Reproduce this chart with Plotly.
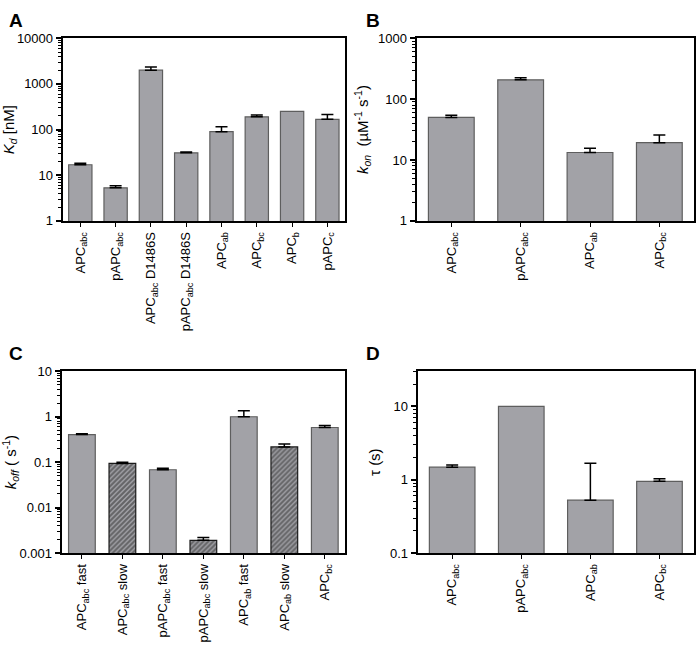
import plotly.graph_objects as go
import numpy as np

# panel A - Kd
a_labels = ["APC<sub>abc</sub>", "pAPC<sub>abc</sub>", "APC<sub>abc</sub> D1486S",
            "pAPC<sub>abc</sub> D1486S", "APC<sub>ab</sub>", "APC<sub>bc</sub>",
            "APC<sub>b</sub>", "pAPC<sub>c</sub>"]
a_vals = [17, 5.3, 2000, 31, 90, 190, 250, 168]
a_err = [1.3, 0.6, 350, 1.2, 25, 18, None, 45]

# panel B - kon
b_labels = ["APC<sub>abc</sub>", "pAPC<sub>abc</sub>", "APC<sub>ab</sub>", "APC<sub>bc</sub>"]
b_vals = [50, 208, 13.3, 19.3]
b_err = [4.5, 16, 2.3, 6.5]

# panel C - koff
c_labels = ["APC<sub>abc</sub> fast", "APC<sub>abc</sub> slow", "pAPC<sub>abc</sub> fast",
            "pAPC<sub>abc</sub> slow", "APC<sub>ab</sub> fast", "APC<sub>ab</sub> slow",
            "APC<sub>bc</sub>"]
c_vals = [0.405, 0.094, 0.068, 0.0019, 1.0, 0.217, 0.58]
c_err = [0.02, 0.006, 0.005, 0.0003, 0.35, 0.034, 0.06]
c_slow = [False, True, False, True, False, True, False]

# panel D - tau
d_labels = ["APC<sub>abc</sub>", "pAPC<sub>abc</sub>", "APC<sub>ab</sub>", "APC<sub>bc</sub>"]
d_vals = [1.48, 10, 0.525, 0.95]
d_err = [0.11, None, 1.15, 0.08]

W, H = 699, 645
FONT = "Liberation Sans, Arial, sans-serif"
BAR = "#a2a2a7"


def xd(l, r):
    return [l / W, r / W]


def yd(t, b):
    return [1 - b / H, 1 - t / H]


fig = go.Figure()


def add_bars(labels, vals, err, n, slow=None):
    xa = "x" if n == 1 else "x%d" % n
    ya = "y" if n == 1 else "y%d" % n
    if slow is None:
        slow = [False] * len(vals)
    shapes = ["/" if s else "" for s in slow]
    lcol = ["#1a1a1a" if s else "#5e5e5e" for s in slow]
    fig.add_trace(go.Bar(
        x=labels, y=vals, xaxis=xa, yaxis=ya,
        marker=dict(color=BAR, line=dict(color=lcol, width=1.2),
                    pattern=dict(shape=shapes, fgcolor="#262626", bgcolor=BAR,
                                 size=3.5, solidity=0.6)),
        showlegend=False, hoverinfo="skip",
    ))
    # upward error bars only where the source has one
    keep = [i for i, e in enumerate(err) if e is not None]
    fig.add_trace(go.Scatter(
        x=[labels[i] for i in keep], y=[vals[i] for i in keep], xaxis=xa, yaxis=ya,
        mode="markers", marker=dict(size=1, color="rgba(0,0,0,0)"),
        error_y=dict(type="data", symmetric=False, array=[err[i] for i in keep],
                     arrayminus=[0] * len(keep), color="black", thickness=1.5, width=6),
        showlegend=False, hoverinfo="skip",
    ))


add_bars(a_labels, a_vals, a_err, 1)
add_bars(b_labels, b_vals, b_err, 2)
add_bars(c_labels, c_vals, c_err, 3, c_slow)
add_bars(d_labels, d_vals, d_err, 4)

xcommon = dict(showline=True, linecolor="black", linewidth=2, mirror=True,
               ticks="outside", ticklen=4, tickwidth=1.2, tickcolor="black",
               tickangle=-90, tickfont=dict(size=13, color="black", family=FONT),
               showgrid=False)
ycommon = dict(type="log", showline=True, linecolor="black", linewidth=2, mirror=True,
               ticks="outside", ticklen=5, tickwidth=1.5, tickcolor="black",
               tickfont=dict(size=13, color="black", family=FONT), showgrid=False,
               zeroline=False,
               minor=dict(ticks="outside", ticklen=3, tickwidth=1, tickcolor="black",
                          dtick="D1", showgrid=False),
               title=dict(font=dict(size=15, color="black", family=FONT), standoff=6))

fig.update_layout(
    width=W, height=H, margin=dict(l=0, r=0, t=0, b=0),
    paper_bgcolor="white", plot_bgcolor="white", bargap=0.34,
    font=dict(family=FONT, color="black"),
    xaxis=dict(xcommon, domain=xd(59, 343), anchor="y"),
    yaxis=dict(ycommon, domain=yd(32, 219), anchor="x", range=[0, 4],
               tickvals=[1, 10, 100, 1000, 10000],
               ticktext=["1", "10", "100", "1000", "10000"],
               title=dict(ycommon["title"], text="<i>K<sub>d</sub></i> [nM]")),
    xaxis2=dict(xcommon, domain=xd(415, 694), anchor="y2"),
    yaxis2=dict(ycommon, domain=yd(32, 219), anchor="x2", range=[0, 3],
                tickvals=[1, 10, 100, 1000], ticktext=["1", "10", "100", "1000"],
                title=dict(ycommon["title"],
                           text="<i>k<sub>on</sub></i>  (µM<sup>-1</sup> s<sup>-1</sup>)")),
    xaxis3=dict(xcommon, domain=xd(58, 343), anchor="y3"),
    yaxis3=dict(ycommon, domain=yd(373, 559), anchor="x3", range=[-3, 1],
                tickvals=[0.001, 0.01, 0.1, 1, 10],
                ticktext=["0.001", "0.01", "0.1", "1", "10"],
                title=dict(ycommon["title"], text="<i>k<sub>off</sub></i> ( s<sup>-1</sup>)")),
    xaxis4=dict(xcommon, domain=xd(416, 694), anchor="y4"),
    yaxis4=dict(ycommon, domain=yd(373, 559), anchor="x4", range=[-1, np.log10(30)],
                tickvals=[0.1, 1, 10], ticktext=["0.1", "1", "10"],
                title=dict(ycommon["title"], text="τ (s)")),
)

for txt, x, y in [("A", 3, 1), ("B", 362, 1), ("C", 3, 342), ("D", 362, 342)]:
    fig.add_annotation(text="<b>%s</b>" % txt, x=x / W, y=1 - y / H, xref="paper",
                       yref="paper", xanchor="left", yanchor="top", showarrow=False,
                       font=dict(size=19, color="black", family=FONT))

# drop the default page margin so the figure sits at the window corner
fig.write_html("out.html", config={"displayModeBar": False},
               post_script="document.body.style.margin='0';")
